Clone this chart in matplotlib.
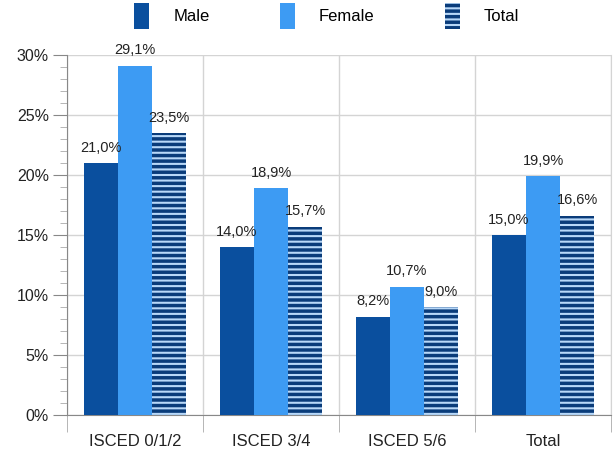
import matplotlib
matplotlib.use("Agg")
import matplotlib.pyplot as plt
import numpy as np
from matplotlib.ticker import MultipleLocator, FuncFormatter
from matplotlib.patches import Patch

categories = ["ISCED 0/1/2", "ISCED 3/4", "ISCED 5/6", "Total"]
male = [21.0, 14.0, 8.2, 15.0]
female = [29.1, 18.9, 10.7, 19.9]
total = [23.5, 15.7, 9.0, 16.6]
series_names = ["Male", "Female", "Total"]

plt.rcParams['font.family'] = ['Liberation Sans', 'DejaVu Sans']
plt.rcParams['hatch.linewidth'] = 1.5
plt.rcParams['hatch.color'] = '#b8d8f8'

c_male = '#0a4f9e'
c_female = '#3d9bf3'
c_total = '#0a3c7a'

fig = plt.figure(figsize=(6.13, 4.53), dpi=100)
ax = fig.add_axes([67/613, 1-415/453, 544/613, 360/453])

x = np.arange(len(categories))
w = 0.25
b1 = ax.bar(x - w, male, w, color=c_male, zorder=3)
b2 = ax.bar(x, female, w, color=c_female, zorder=3)
b3 = ax.bar(x + w, total, w, color=c_total, hatch='---', edgecolor='#b8d8f8', linewidth=0, zorder=3)

def fmt(v):
    return ("%.1f%%" % v).replace('.', ',')

for bars, vals in ((b1, male), (b2, female), (b3, total)):
    for r, v in zip(bars, vals):
        ax.annotate(fmt(v), (r.get_x() + r.get_width()/2, v), xytext=(0, 6),
                    textcoords='offset points', ha='center', va='bottom',
                    fontsize=10.5, color='#222222')

ax.set_ylim(0, 30)
ax.set_xlim(-0.5, len(categories) - 0.5)
ax.yaxis.set_major_locator(MultipleLocator(5))
ax.yaxis.set_minor_locator(MultipleLocator(1))
ax.yaxis.set_major_formatter(FuncFormatter(lambda v, p: "%d%%" % v))
ax.tick_params(axis='y', which='major', length=10, color='#888888', labelsize=11.5, labelcolor='#222222', pad=3)
ax.tick_params(axis='y', which='minor', length=5, color='#aaaaaa')
ax.yaxis.grid(True, color='#d4d4d4', linewidth=1, zorder=0)

# x: group labels centered, ticks at boundaries
ax.set_xticks(x)
ax.set_xticklabels(categories, fontsize=12, color='#222222')
ax.tick_params(axis='x', which='major', length=0, pad=14)
ax.set_xticks(np.arange(len(categories) + 1) - 0.5, minor=True)
ax.tick_params(axis='x', which='minor', length=12, color='#aaaaaa')
ax.xaxis.grid(True, which='minor', color='#d4d4d4', linewidth=1, zorder=0)

ax.spines['top'].set_visible(False)
ax.spines['right'].set_color('#d4d4d4')
ax.spines['left'].set_color('#888888')
ax.spines['bottom'].set_color('#888888')

handles = [Patch(facecolor=c_male), Patch(facecolor=c_female),
           Patch(facecolor=c_total, hatch='---', edgecolor='#b8d8f8', linewidth=0)]
fig.legend(handles, series_names, loc='center', bbox_to_anchor=(0.533, 1-16/453), ncol=3,
           frameon=False, fontsize=12, handlelength=0.9, handleheight=2.0,
           columnspacing=4.2, handletextpad=1.45)

fig.savefig("out.png", dpi=100)
